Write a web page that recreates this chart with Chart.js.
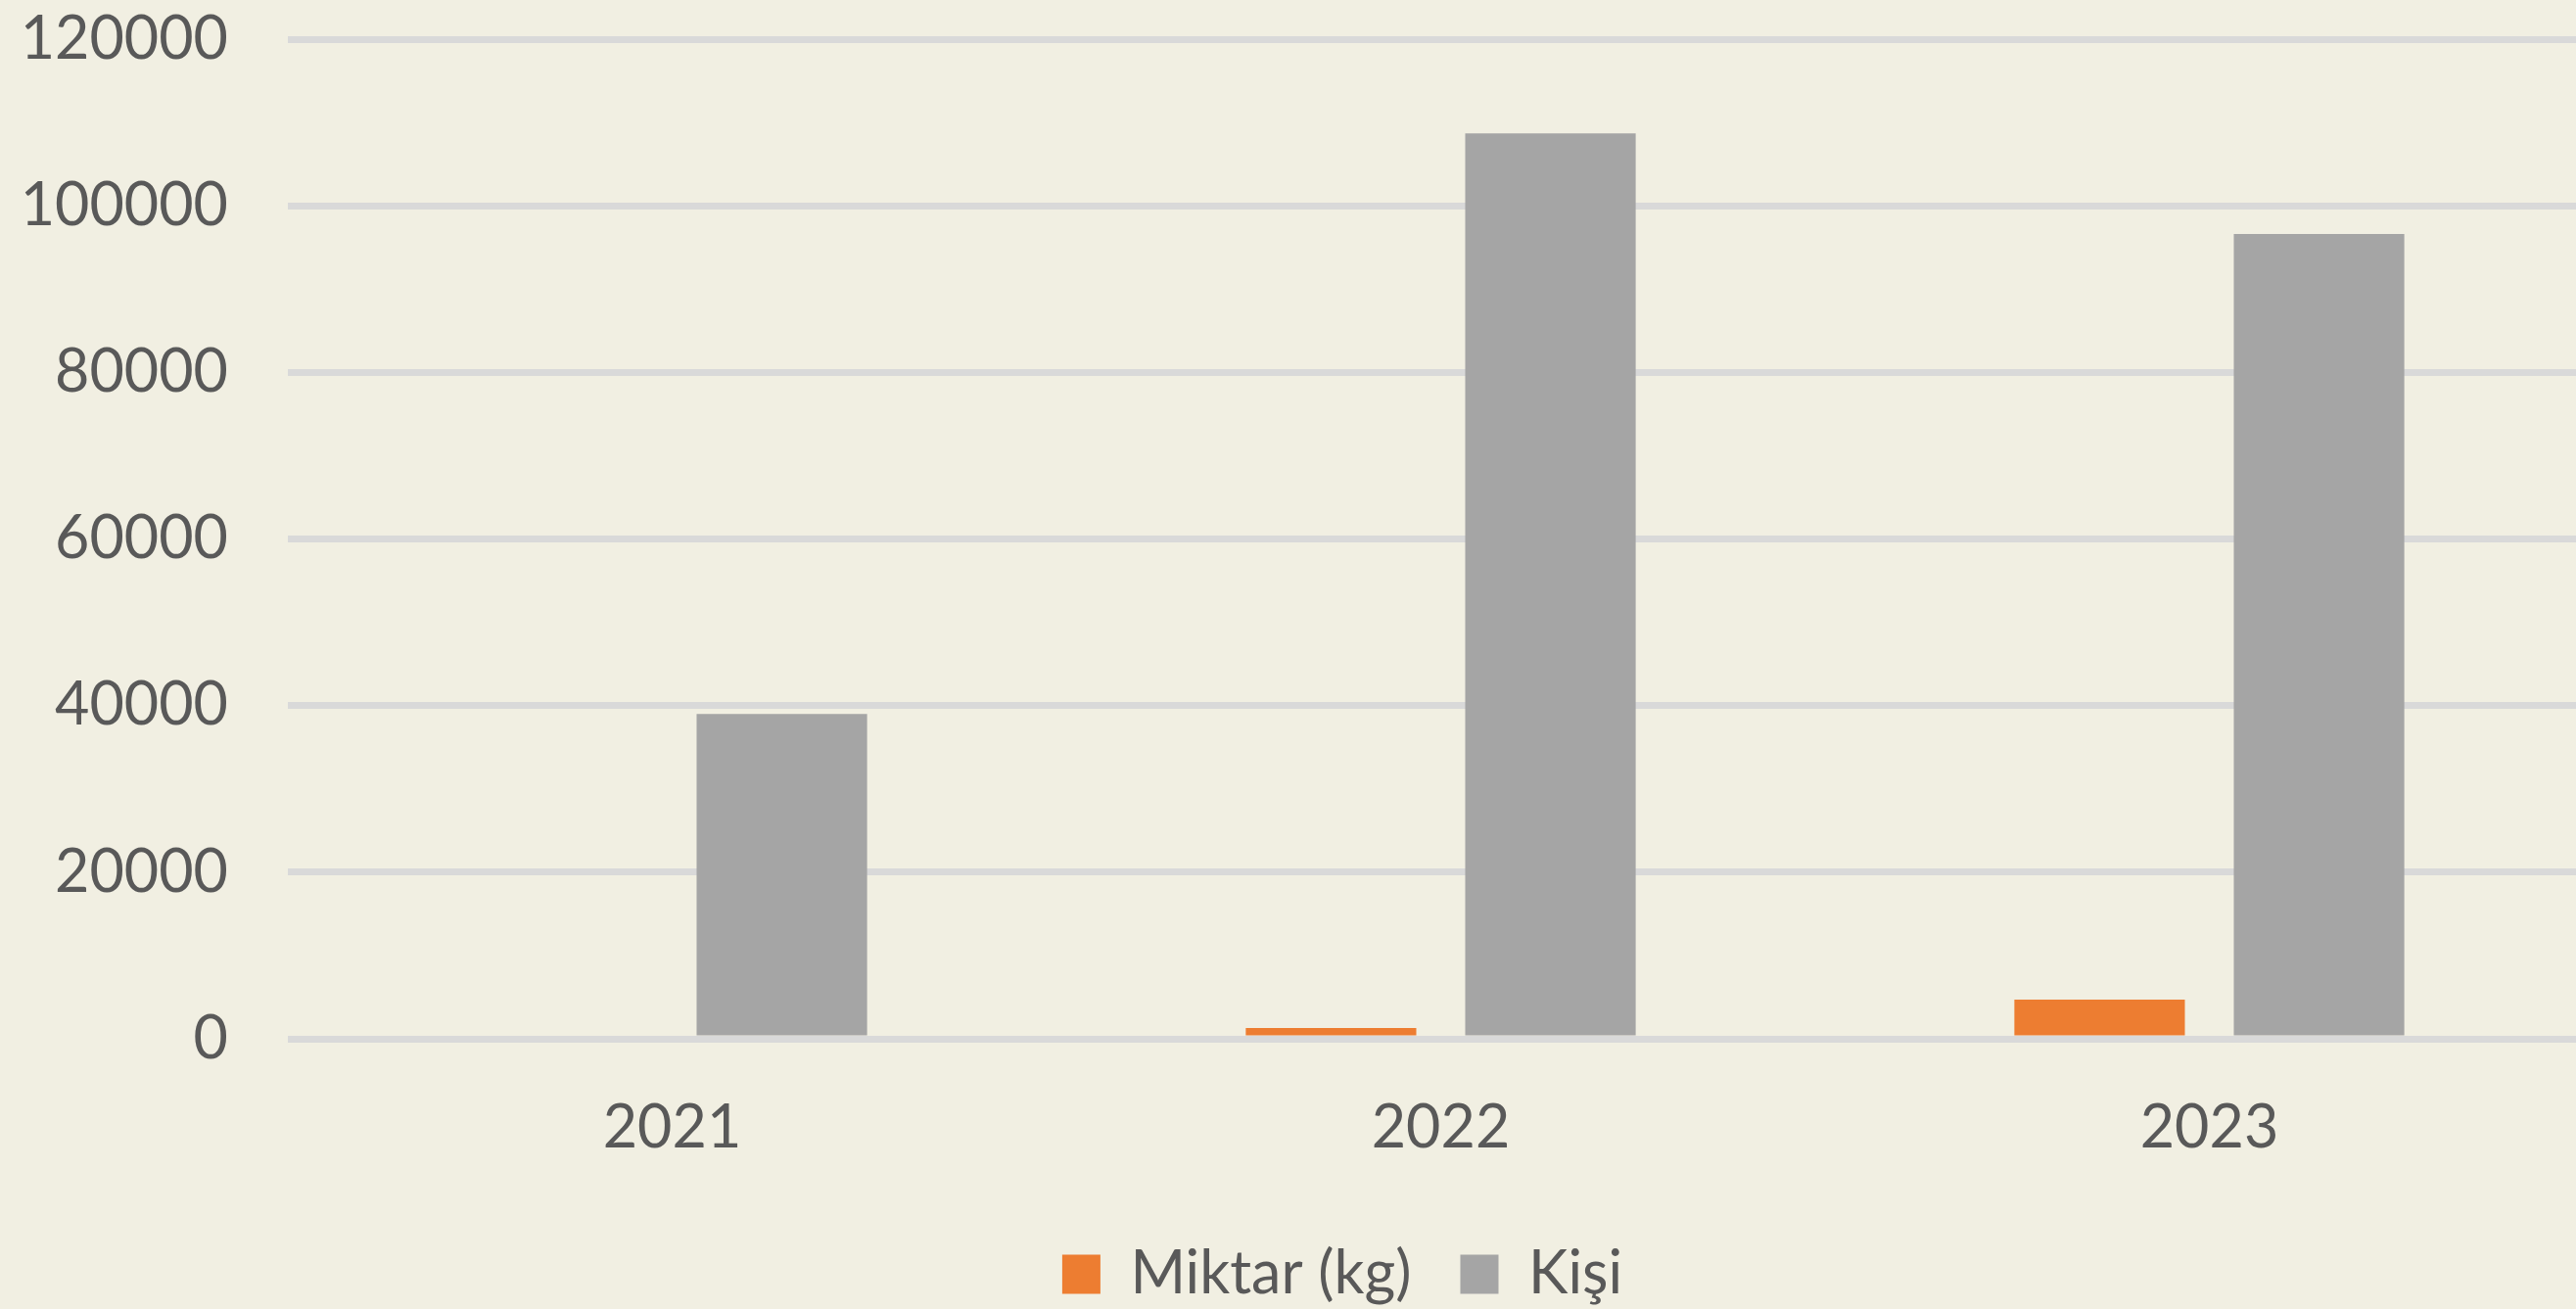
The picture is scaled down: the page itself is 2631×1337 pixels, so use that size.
<!DOCTYPE html>
<html>
<head>
<meta charset="utf-8">
<script src="https://cdn.jsdelivr.net/npm/chart.js@4"></script>
<style>
  html, body { margin: 0; padding: 0; background: #F1EFE2; overflow: hidden; }
  #wrap { width: 2742px; height: 1337px; }
</style>
</head>
<body>
<div id="wrap"><canvas id="chart"></canvas></div>
<script>
// values
var years = ["2021", "2022", "2023"];
var miktar = [0, 1300, 4700];
var kisi = [39000, 108700, 96600];
var yTicks = [0, 20000, 40000, 60000, 80000, 100000, 120000];

var textColor = "#595959";
Chart.defaults.font.family = "Lato";
Chart.defaults.font.size = 61;
Chart.defaults.color = textColor;

new Chart(document.getElementById("chart"), {
  type: 'bar',
  data: {
    labels: years,
    datasets: [
      { label: "Miktar (kg)", backgroundColor: "#ED7D31", data: miktar },
      { label: "Kişi", backgroundColor: "#A5A5A5", data: kisi }
    ]
  },
  options: {
    responsive: true,
    maintainAspectRatio: false,
    animation: false,
    categoryPercentage: 0.571,
    barPercentage: 0.777,
    layout: { padding: { top: 40, left: 0, right: 0, bottom: -5 } },
    plugins: {
      tooltip: { enabled: false },
      legend: {
        position: 'bottom',
        labels: { boxWidth: 39, boxHeight: 40, padding: 50, color: textColor }
      }
    },
    scales: {
      x: {
        grid: { display: false, drawTicks: false },
        border: { display: false },
        ticks: { padding: 55 },
        afterFit: function (scale) { scale.height = 160; }
      },
      y: {
        min: 0,
        max: 120000,
        afterBuildTicks: function (scale) {
          scale.ticks = yTicks.map(function (v) { return { value: v }; });
        },
        grid: { color: "#D9D9D9", lineWidth: 7, drawTicks: false },
        border: { display: false },
        ticks: { padding: 61, callback: function (v) { return v; } },
        afterFit: function (scale) {
          scale.width = 294;
          // tick padding is horizontal here, keep it out of the top margin
          scale.paddingTop = 30;
          scale.paddingBottom = 30;
        }
      },
      // empty spacer on the right: plot runs past the crop, legend sits right of centre
      yRight: {
        position: 'right',
        grid: { display: false, drawTicks: false },
        border: { display: false },
        ticks: { display: false },
        afterFit: function (scale) {
          scale.width = 93;
          scale.paddingTop = 0;
          scale.paddingBottom = 0;
        }
      }
    }
  }
});
</script>
</body>
</html>
